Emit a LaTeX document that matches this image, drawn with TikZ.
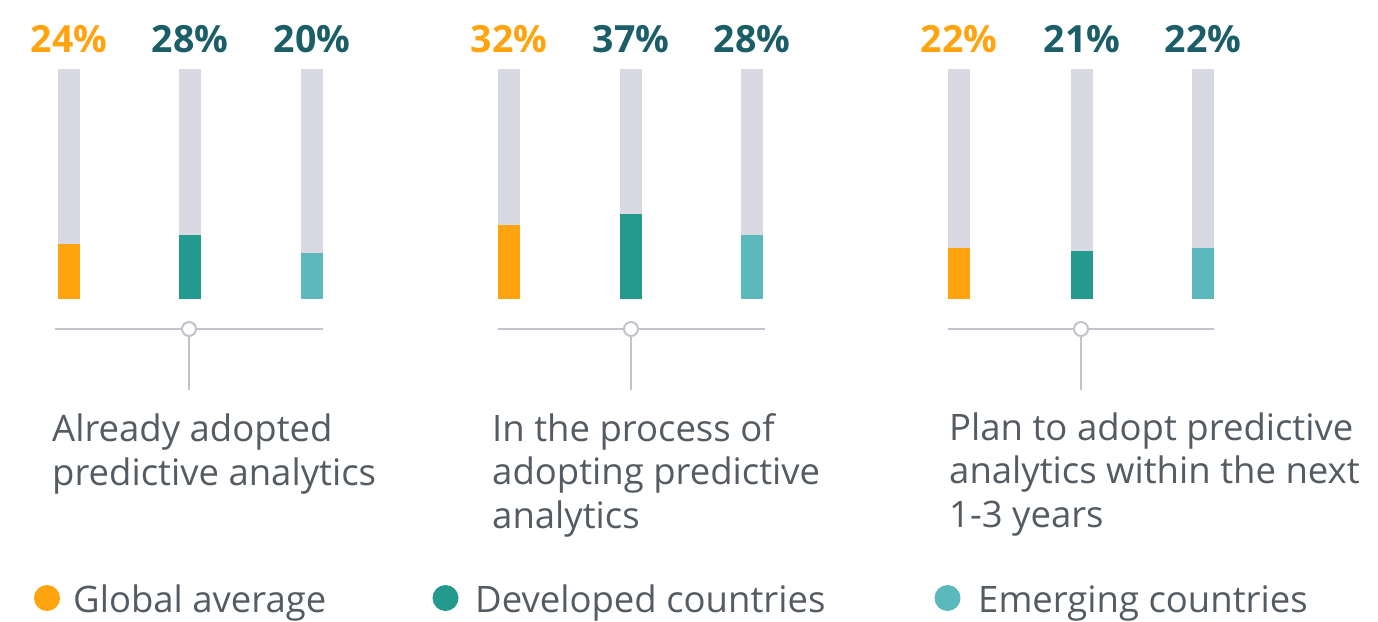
\documentclass[tikz,border=0pt]{standalone}
\usepackage{fontspec}
\setmainfont{Open Sans}
\definecolor{orangeA}{HTML}{FFA30F}
\definecolor{tealText}{HTML}{1B5E68}
\definecolor{tealBar}{HTML}{249A8F}
\definecolor{ltealBar}{HTML}{5BB8BB}
\definecolor{trackGray}{HTML}{D9D9E3}
\definecolor{axisGray}{HTML}{C1C3CD}
\definecolor{labelGray}{HTML}{555B63}
\tikzset{
  pct/.style={font=\bfseries\fontsize{37.5}{44}\selectfont, anchor=base, inner sep=0pt},
  grouplabel/.style={font=\fontsize{36.5}{43.5}\selectfont, text=labelGray, anchor=base west, align=left, inner sep=0pt},
  legendtext/.style={font=\fontsize{36.5}{43}\selectfont, text=labelGray, anchor=base west, inner sep=0pt},
  axisline/.style={draw=axisGray, line width=2.6pt},
  knob/.style={circle, draw=axisGray, line width=2pt, fill=white, minimum size=14pt, inner sep=0pt},
}
\newcommand{\mybar}[5]{% x, value, bar colour, text colour, name
  \fill[trackGray] (#1,69) rectangle (#1+22,299);
  \fill[#3] (#1,{299-2.3*#2}) rectangle (#1+22,299);
  \node[pct, text=#4] (#5) at (#1+11,52) {#2\%};
}
\begin{document}
\begin{tikzpicture}[x=1pt,y=-1pt]
\useasboundingbox (0,0) rectangle (1378,621);
% group 1
\mybar{58}{24}{orangeA}{orangeA}{p11}
\mybar{179}{28}{tealBar}{tealText}{p12}
\mybar{301}{20}{ltealBar}{tealText}{p13}
% group 2
\mybar{498}{32}{orangeA}{orangeA}{p21}
\mybar{620}{37}{tealBar}{tealText}{p22}
\mybar{741}{28}{ltealBar}{tealText}{p23}
% group 3
\mybar{948}{22}{orangeA}{orangeA}{p31}
\mybar{1071}{21}{tealBar}{tealText}{p32}
\mybar{1192}{22}{ltealBar}{tealText}{p33}

% axes
\coordinate (a1l) at (55,329); \coordinate (a1r) at (323,329);
\coordinate (a2l) at (498,329); \coordinate (a2r) at (765,329);
\coordinate (a3l) at (948,329); \coordinate (a3r) at (1214,329);
\coordinate (v1) at (189,390); \coordinate (v2) at (631,390); \coordinate (v3) at (1081,390);
\draw[axisline] (a1l) -- (a1r);
\draw[axisline] (a2l) -- (a2r);
\draw[axisline] (a3l) -- (a3r);
\node[knob] (k1) at (189,329) {};
\node[knob] (k2) at (631,329) {};
\node[knob] (k3) at (1081,329) {};
\draw[axisline] (k1.south) -- (v1);
\draw[axisline] (k2.south) -- (v2);
\draw[axisline] (k3.south) -- (v3);

% group labels (anchor = baseline of last line)
\node[grouplabel] (g1) at (52,485) {Already adopted\\predictive analytics};
\node[grouplabel] (g2) at (492,528) {In the process of\\adopting predictive\\analytics};
\node[grouplabel] (g3) at (949,527) {Plan to adopt predictive\\analytics within the next\\1-3 years};

% legend
\fill[orangeA] (47,598) circle (13);
\node[legendtext] (l1) at (73,612) {Global average};
\fill[tealBar] (445.5,598) circle (13);
\node[legendtext] (l2) at (475,612) {Developed countries};
\fill[ltealBar] (947.5,598) circle (13);
\node[legendtext] (l3) at (978,612) {Emerging countries};
\end{tikzpicture}
\end{document}
